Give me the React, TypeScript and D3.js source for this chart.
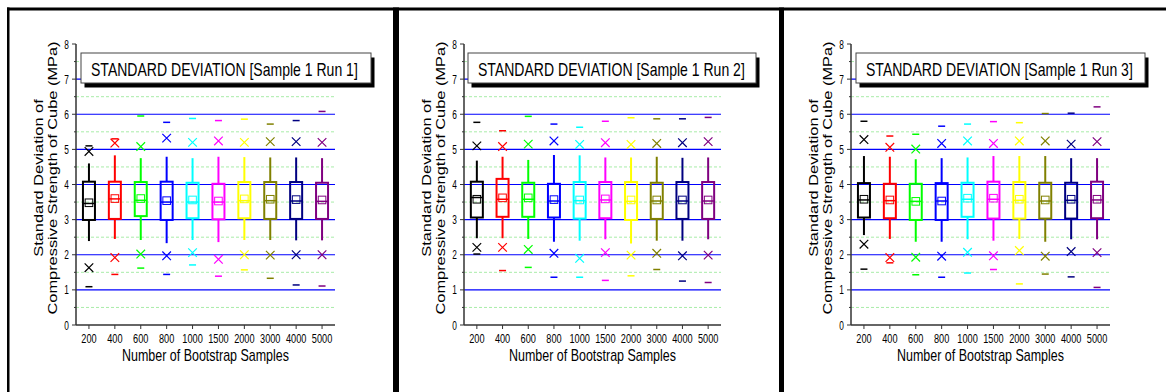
import React from "react";
import * as d3 from "d3";

// ---------- data ----------
const categories = ["200", "400", "600", "800", "1000", "1500", "2000", "3000", "4000", "5000"];
const seriesColors = ["#000000", "#ff0000", "#00ff00", "#0000ff", "#00ffff", "#ff00ff", "#ffff00", "#808000", "#000080", "#800080"];
const runTitles = [
  "STANDARD DEVIATION [Sample 1 Run 1]",
  "STANDARD DEVIATION [Sample 1 Run 2]",
  "STANDARD DEVIATION [Sample 1 Run 3]",
];
const yTicks = [0, 1, 2, 3, 4, 5, 6, 7, 8];
const yMinorTicks = [0.5, 1.5, 2.5, 3.5, 4.5, 5.5, 6.5, 7.5];
const majorGrid = [1, 2, 3, 4, 5, 6, 7];

// one row per run, one value per category
const q1 = [
  [2.99, 3.02, 3.10, 2.99, 3.04, 3.01, 3.04, 3.02, 3.02, 3.02],
  [3.06, 3.08, 3.08, 3.06, 3.03, 3.04, 2.99, 3.02, 3.02, 3.02],
  [3.06, 3.04, 2.99, 2.99, 3.08, 3.03, 3.03, 3.03, 3.03, 3.04],
];
const q3 = [
  [4.08, 4.08, 4.07, 4.08, 4.05, 4.02, 4.07, 4.07, 4.07, 4.05],
  [4.08, 4.16, 4.05, 4.02, 4.07, 4.07, 4.07, 4.05, 4.07, 4.07],
  [4.04, 4.02, 4.02, 4.04, 4.05, 4.08, 4.07, 4.05, 4.05, 4.08],
];
const median = [
  [3.46, 3.59, 3.55, 3.50, 3.50, 3.50, 3.54, 3.54, 3.53, 3.52],
  [3.63, 3.58, 3.58, 3.53, 3.54, 3.56, 3.52, 3.53, 3.53, 3.53],
  [3.56, 3.54, 3.52, 3.53, 3.58, 3.58, 3.55, 3.53, 3.55, 3.56],
];
const mean = [
  [3.48, 3.60, 3.60, 3.54, 3.56, 3.53, 3.59, 3.58, 3.57, 3.56],
  [3.58, 3.62, 3.62, 3.57, 3.56, 3.59, 3.56, 3.56, 3.56, 3.56],
  [3.58, 3.56, 3.52, 3.53, 3.61, 3.61, 3.58, 3.56, 3.58, 3.58],
];
const whiskerLo = [
  [2.39, 2.45, 2.42, 2.33, 2.42, 2.36, 2.42, 2.42, 2.41, 2.41],
  [2.47, 2.47, 2.45, 2.37, 2.40, 2.44, 2.32, 2.40, 2.40, 2.44],
  [2.56, 2.45, 2.37, 2.37, 2.44, 2.40, 2.45, 2.37, 2.44, 2.44],
];
const whiskerHi = [
  [4.60, 4.83, 4.75, 4.79, 4.75, 4.79, 4.78, 4.77, 4.77, 4.75],
  [4.68, 4.79, 4.70, 4.84, 4.83, 4.77, 4.77, 4.79, 4.76, 4.77],
  [4.81, 4.79, 4.72, 4.75, 4.77, 4.81, 4.81, 4.81, 4.75, 4.75],
];
const pctHigh = [
  [4.94, 5.18, 5.08, 5.32, 5.20, 5.24, 5.20, 5.22, 5.22, 5.20],
  [5.10, 5.08, 5.15, 5.24, 5.14, 5.19, 5.14, 5.17, 5.19, 5.22],
  [5.28, 5.06, 5.01, 5.17, 5.24, 5.17, 5.24, 5.24, 5.15, 5.22],
];
const pctLow = [
  [1.63, 1.92, 2.02, 1.97, 2.06, 1.87, 2.00, 1.99, 2.00, 2.00],
  [2.21, 2.21, 2.15, 2.04, 1.90, 2.06, 1.99, 2.04, 1.97, 1.99],
  [2.30, 1.92, 1.93, 1.96, 2.07, 1.97, 2.12, 1.96, 2.09, 2.06],
];
const maxima = [
  [5.10, 5.30, 5.95, 5.77, 5.88, 5.82, 5.86, 5.72, 5.82, 6.08],
  [5.77, 5.53, 5.94, 5.72, 5.63, 5.80, 5.90, 5.87, 5.87, 5.91],
  [5.80, 5.38, 5.43, 5.66, 5.72, 5.79, 5.76, 6.02, 6.03, 6.21],
];
const minima = [
  [1.09, 1.44, 1.62, 1.44, 1.71, 1.39, 1.57, 1.33, 1.14, 1.11],
  [2.02, 1.55, 1.64, 1.36, 1.36, 1.27, 1.40, 1.58, 1.25, 1.21],
  [1.59, 1.77, 1.43, 1.36, 1.48, 1.58, 1.17, 1.45, 1.37, 1.07],
];

const xTitle = "Number of Bootstrap Samples";
const yTitle1 = "Standard Deviation of";
const yTitle2 = "Compressive Strength of Cube (MPa)";

// ---------- layout ----------
const W = 1166;
const H = 392;
const FONT = "'Liberation Sans', Arial, Helvetica, sans-serif";
const PLOT_TOP = 44;
const PLOT_BOTTOM = 325;
const panels = [
  { axisX: 76, axisEnd: 335, boxL: 81, boxR: 371 },
  { axisX: 464, axisEnd: 721, boxL: 468, boxR: 756 },
  { axisX: 851, axisEnd: 1110, boxL: 856, boxR: 1145 },
];

const SX = 0.78; // horizontal squeeze of the original image text

function Panel({ run }: { run: number }) {
  const p = panels[run];
  const x = d3.scaleBand<string>().domain(categories).range([p.axisX, p.axisEnd]).padding(0);
  const y = d3.scaleLinear().domain([0, 8]).range([PLOT_BOTTOM, PLOT_TOP]);
  const cx = (c: string) => (x(c) as number) + x.bandwidth() / 2;
  const boxHalf = 6;
  const xs = 4.3;
  const dashHalf = 3.5;
  const meanHalf = 3.8;
  const titleTop = 53;
  const titleH = 30;
  const midY = 178;

  return (
    <g>
      {/* minor dashed grid */}
      {yMinorTicks.map((v) => (
        <line key={"mg" + v} x1={p.axisX} x2={p.axisEnd} y1={y(v)} y2={y(v)} stroke="#a8eca8" strokeWidth={1} strokeDasharray="3,2" />
      ))}
      {/* major blue grid */}
      {majorGrid.map((v) => (
        <line key={"g" + v} x1={p.axisX} x2={p.axisEnd} y1={y(v)} y2={y(v)} stroke="#0000ff" strokeWidth={1.2} />
      ))}

      {/* title box with shadow */}
      <rect x={p.boxL + 3.5} y={titleTop + 4.5} width={p.boxR - p.boxL} height={titleH} fill="#000" />
      <rect x={p.boxL} y={titleTop} width={p.boxR - p.boxL} height={titleH} fill="#fff" stroke="#444" strokeWidth={1} />
      <text
        transform={`translate(${p.boxL + 10},${titleTop + 22.5}) scale(${SX},1)`}
        fontFamily={FONT}
        fontSize={18}
        fill="#000"
      >
        {runTitles[run]}
      </text>

      {/* boxes */}
      {categories.map((c, i) => {
        const col = seriesColors[i];
        const X = cx(c);
        return (
          <g key={c}>
            <line x1={X} x2={X} y1={y(q3[run][i])} y2={y(whiskerHi[run][i])} stroke={col} strokeWidth={2} />
            <line x1={X} x2={X} y1={y(q1[run][i])} y2={y(whiskerLo[run][i])} stroke={col} strokeWidth={2} />
            <rect
              x={X - boxHalf}
              y={y(q3[run][i])}
              width={boxHalf * 2}
              height={y(q1[run][i]) - y(q3[run][i])}
              fill="none"
              stroke={col}
              strokeWidth={2}
            />
            <line x1={X - boxHalf} x2={X + boxHalf} y1={y(median[run][i])} y2={y(median[run][i])} stroke={col} strokeWidth={1.5} />
            <rect
              x={X - meanHalf}
              y={y(mean[run][i]) - meanHalf}
              width={meanHalf * 2}
              height={meanHalf * 2}
              fill="none"
              stroke={col}
              strokeWidth={1}
            />
            {[pctHigh[run][i], pctLow[run][i]].map((v, k) => (
              <path
                key={"x" + k}
                d={`M${X - xs},${y(v) - xs}L${X + xs},${y(v) + xs}M${X - xs},${y(v) + xs}L${X + xs},${y(v) - xs}`}
                stroke={col}
                strokeWidth={1.2}
                fill="none"
              />
            ))}
            {[maxima[run][i], minima[run][i]].map((v, k) => (
              <line key={"d" + k} x1={X - dashHalf} x2={X + dashHalf} y1={y(v)} y2={y(v)} stroke={col} strokeWidth={1.5} />
            ))}
          </g>
        );
      })}

      {/* axes */}
      <line x1={p.axisX} x2={p.axisX} y1={PLOT_TOP} y2={PLOT_BOTTOM} stroke="#333" strokeWidth={1.5} />
      <line x1={p.axisX} x2={p.axisEnd} y1={PLOT_BOTTOM} y2={PLOT_BOTTOM} stroke="#333" strokeWidth={1.5} />
      {yTicks.map((v) => (
        <g key={"yt" + v}>
          <line x1={p.axisX - 4} x2={p.axisX} y1={y(v)} y2={y(v)} stroke="#333" strokeWidth={1} />
          <text
            transform={`translate(${p.axisX - 7},${y(v) + 4.5}) scale(0.64,1)`}
            textAnchor="end"
            fontFamily={FONT}
            fontSize={13}
            fill="#000"
          >
            {v}
          </text>
        </g>
      ))}
      {yMinorTicks.map((v) => (
        <line key={"ymt" + v} x1={p.axisX - 2} x2={p.axisX} y1={y(v)} y2={y(v)} stroke="#333" strokeWidth={1} />
      ))}
      {categories.map((c) => (
        <g key={"xt" + c}>
          <line x1={cx(c)} x2={cx(c)} y1={PLOT_BOTTOM} y2={PLOT_BOTTOM + 4} stroke="#333" strokeWidth={1} />
          <text
            transform={`translate(${cx(c)},${343}) scale(0.68,1)`}
            textAnchor="middle"
            fontFamily={FONT}
            fontSize={13.5}
            fill="#000"
          >
            {c}
          </text>
        </g>
      ))}
      <text
        transform={`translate(${(p.axisX + p.axisEnd) / 2},${361}) scale(${SX},1)`}
        textAnchor="middle"
        fontFamily={FONT}
        fontSize={16}
        fill="#000"
      >
        {xTitle}
      </text>
      <text
        transform={`translate(${p.axisX - 33},${midY}) rotate(-90) scale(1,${SX})`}
        textAnchor="middle"
        fontFamily={FONT}
        fontSize={16.4}
        fill="#000"
      >
        {yTitle1}
      </text>
      <text
        transform={`translate(${p.axisX - 19},${midY}) rotate(-90) scale(1,${SX})`}
        textAnchor="middle"
        fontFamily={FONT}
        fontSize={16.4}
        fill="#000"
      >
        {yTitle2}
      </text>
    </g>
  );
}

export default function App() {
  return (
    <svg
      width={W}
      height={H}
      viewBox={`0 0 ${W} ${H}`}
      style={{ position: "absolute", left: 0, top: 0, background: "#fff" }}
    >
      <rect x={0} y={0} width={W} height={H} fill="#fff" />
      {[0, 1, 2].map((r) => (
        <Panel key={r} run={r} />
      ))}
      {/* frame */}
      <rect x={7} y={7.5} width={W - 7} height={3} fill="#000" />
      <rect x={7} y={7.5} width={2.5} height={H - 7.5} fill="#000" />
      <rect x={393} y={7.5} width={6} height={H - 7.5} fill="#000" />
      <rect x={779} y={7.5} width={5} height={H - 7.5} fill="#000" />
    </svg>
  );
}
